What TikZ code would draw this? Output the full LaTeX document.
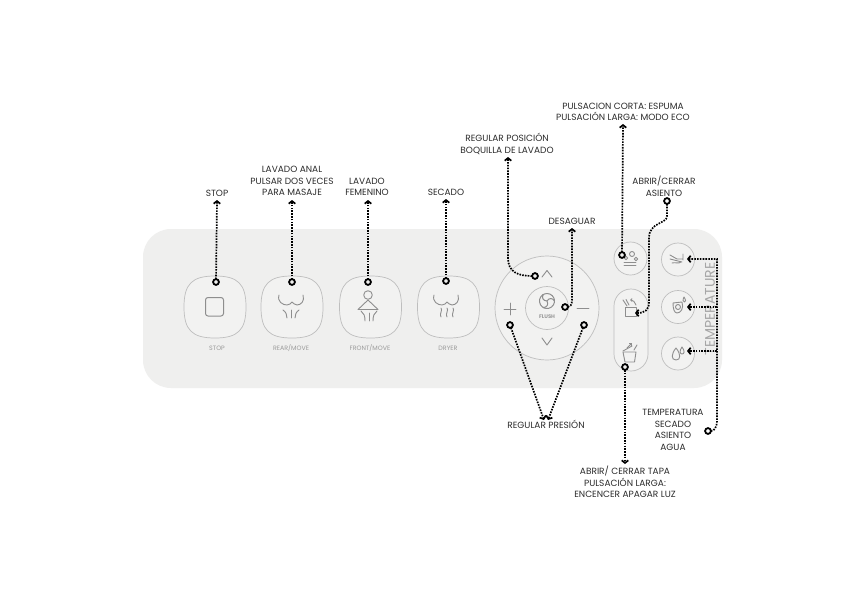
\documentclass[tikz,border=0pt]{standalone}
\usepackage{fontspec}
\setmainfont{Poppins}
\usetikzlibrary{arrows.meta}
\definecolor{panelc}{HTML}{EFEFEE}
\definecolor{edgec}{HTML}{BEBEBE}
\definecolor{iconc}{HTML}{8E8E8E}
\definecolor{lblc}{HTML}{9A9A9A}
\definecolor{txtc}{HTML}{2B2B2B}
\tikzset{
  x=1pt,y=-1pt,
  panelbox/.style={draw=none,fill=panelc,rounded corners=28pt,minimum width=579pt,minimum height=159pt,inner sep=0pt,outer sep=0pt},
  ring/.style={circle,draw=edgec,line width=.7pt,fill=panelc!80!white,inner sep=0pt,outer sep=0pt},
  icon/.style={draw=iconc,line width=.9pt,line cap=round,line join=round},
  lbl/.style={text=txtc,font=\fontsize{9}{11.7}\selectfont,align=center,inner sep=0pt},
  btnlbl/.style={text=lblc,font=\fontsize{6.3}{7}\selectfont,inner sep=0pt},
  hole/.style={circle,draw=black,line width=1.8pt,fill=panelc,minimum size=5.8pt,inner sep=0pt,outer sep=0pt},
  dots/.style={draw=black,line width=1.7pt,dash pattern=on 1.6pt off 1.2pt},
  tipped/.style={dots,-{Straight Barb[length=2.6pt,width=6.6pt,line width=1.7pt]}},
  squircle/.pic={
    \path[draw=edgec,line width=.7pt,fill=panelc!80!white]
      (0,-31) .. controls (23,-31) and (31,-23) .. (31,0)
      .. controls (31,23) and (23,31) .. (0,31)
      .. controls (-23,31) and (-31,23) .. (-31,0)
      .. controls (-31,-23) and (-23,-31) .. (0,-31) -- cycle;
  },
  wave/.pic={
    \draw[icon] (-12,-10) .. controls (-14,-3) and (-8,0) .. (-4,0)
      .. controls (-1,0) and (0,-2) .. (1,-3)
      .. controls (2,-2) and (4,0) .. (6,0)
      .. controls (10,0) and (14,-4) .. (12,-10);
  }
}
\begin{document}
\begin{tikzpicture}
\useasboundingbox (0,0) rectangle (865,600);
\fill[white] (0,0) rectangle (865,600);
\node[panelbox] (panel) at (432.5,308.5) {};

% square buttons
\pic at (215,307) {squircle};
\pic at (292,307) {squircle};
\pic at (370.5,307) {squircle};
\pic at (448.5,307) {squircle};
\node[btnlbl] (lstop) at (217,348) {STOP};
\node[btnlbl] (lrear) at (291,348) {REAR/MOVE};
\node[btnlbl] (lfront) at (370,348) {FRONT/MOVE};
\node[btnlbl] (ldry) at (448,348) {DRYER};

% stop icon
\draw[icon,line width=1pt,rounded corners=2.5pt] (205.5,297.5) rectangle (223.5,316);
% rear icon
\pic at (291,305) {wave};
\draw[icon] (283,310) .. controls (286,312) and (287,315) .. (287,318);
\draw[icon] (291,310) -- (291,318);
\draw[icon] (299,310) .. controls (296,312) and (295,315) .. (295,318);
% front icon
\draw[icon] (368,295) circle (4.3);
\draw[icon] (368,300) -- (358,309.5) -- (378,309.5) -- cycle;
\draw[icon] (361,311) .. controls (364,313) and (365,316) .. (365,321);
\draw[icon] (369,313) -- (369,321);
\draw[icon] (377,311) .. controls (374,313) and (373,316) .. (373,321);
% dryer icon
\pic at (446,305) {wave};
\foreach \wx in {441,447,453}{
  \draw[icon] (\wx,308) .. controls (\wx+2,310) and (\wx-2,314) .. (\wx,317);
}

% dial
\node[ring,minimum size=104pt] (dial) at (547,308) {};
\node[ring,minimum size=43pt] (flush) at (547,308) {};
\draw[icon] (542,277) -- (547,270.5) -- (552,277);
\draw[icon] (542,338) -- (547,345) -- (552,338);
\draw[icon] (504,309) -- (516,309) (510,303) -- (510,315);
\draw[icon] (577,308) -- (589,308);
\foreach \ra in {0,120,240}{
  \begin{scope}[shift={(547,301)},rotate=\ra]
    \draw[icon,line width=1pt] (7.5,0) arc[start angle=0,end angle=-130,radius=7.5];
    \draw[icon,line width=1pt] (7.5,0) .. controls (6,-3) and (2,-3.5) .. (0,0);
  \end{scope}
}
\node[btnlbl,font=\fontsize{5.2}{6}\bfseries\selectfont] (lflush) at (547,317) {FLUSH};

% right-hand buttons
\node[ring,minimum size=33pt] (foam) at (630.5,258.5) {};
\node[ring,rounded corners=17pt,rectangle,minimum width=34pt,minimum height=82pt] (pill) at (631,330) {};
\node[ring,minimum size=33pt] (rtop) at (678,259.5) {};
\node[ring,minimum size=33pt] (rmid) at (678,307) {};
\node[ring,minimum size=33pt] (rbot) at (678,353.5) {};

% foam icon
\draw[icon] (626,258) circle (1.7) (632,254) circle (2.5) (636,259) circle (1.7);
\draw[icon] (624,262) -- (636,262) (624,265) -- (636,265);
% seat icon
\draw[icon] (625,307) -- (625,316.5) -- (636,316.5) -- (636,307) -- cycle;
\draw[icon] (623,300) -- (627,306) (626,299.5) -- (629,305);
\draw[icon,-{Straight Barb[length=1.5pt,width=3pt]}] (636,305) .. controls (635,302) and (633,300) .. (630,300);
% lid icon
\draw[icon] (623,352) -- (636,352) -- (634.5,362) -- (625,362) -- cycle;
\draw[icon] (623,351) -- (632,346);
\draw[icon] (634,350) -- (637,345);
\draw[icon,-{Straight Barb[length=1.5pt,width=3pt]}] (627,348) -- (632,343);
% top right icon
\draw[icon] (670,255) -- (677,259) -- (683,259) (683,254) -- (683,260);
\draw[icon] (670,259) -- (682,262) (672,263) .. controls (675,262) and (679,264) .. (681,262);
% mid right icon
\draw[icon] (673,303) -- (682,302) .. controls (684,308) and (681,313) .. (677,313) .. controls (674,313) and (673,308) .. (673,303);
\draw[icon] (678,307) circle (2.5);
\draw[icon] (684,297) .. controls (682.5,300) and (683,302) .. (684.5,302) .. controls (686,302) and (686,300) .. (684,297);
% bottom right icon
\draw[icon] (676,348) .. controls (671,354) and (671,360) .. (676,360) .. controls (681,360) and (681,354) .. (676,348);
\draw[icon] (682,347) .. controls (679,351) and (680,354) .. (682,354) .. controls (684.5,354) and (685,351) .. (682,347);

% temperature lettering
\node[rotate=90,text=black!35,font=\fontsize{14}{16}\selectfont,inner sep=0pt] (ltemp) at (710,309) {TEMPERATURE};

% labels
\node[lbl] (tstop) at (217,193) {STOP};
\node[lbl] (tanal) at (292,181) {LAVADO ANAL\\PULSAR DOS VECES\\PARA MASAJE};
\node[lbl] (tfem) at (367,187) {LAVADO\\FEMENINO};
\node[lbl] (tsec) at (446,192) {SECADO};
\node[lbl] (tpos) at (507,144) {REGULAR POSICIÓN\\BOQUILLA DE LAVADO};
\node[lbl] (tdes) at (572,221) {DESAGUAR};
\node[lbl] (tfoam) at (623,112) {PULSACION CORTA: ESPUMA\\PULSACIÓN LARGA: MODO ECO};
\node[lbl] (tasi) at (664,186) {ABRIR/CERRAR\\ASIENTO};
\node[lbl] (tpre) at (546,424) {REGULAR PRESIÓN};
\node[lbl] (ttap) at (625,482) {ABRIR/ CERRAR TAPA\\PULSACIÓN LARGA:\\ENCENCER APAGAR LUZ};
\node[lbl] (ttem) at (673,430) {TEMPERATURA\\SECADO\\ASIENTO\\AGUA};

% connector end holes
\node[hole] (dstop) at (216,282) {};
\node[hole] (drear) at (292,282) {};
\node[hole] (dfront) at (368,282) {};
\node[hole] (ddry) at (446,281) {};
\node[hole] (dup) at (535,276) {};
\node[hole] (dflush) at (565,307) {};
\node[hole] (dplus) at (510,325) {};
\node[hole] (dminus) at (584,325) {};
\node[hole] (dfoam) at (622,255) {};
\node[hole,fill=white] (dasi) at (667,201) {};
\node[hole] (dlid) at (625,367) {};
\node[hole,fill=white] (dtem) at (708,431) {};

% arrow ends
\coordinate (astop) at (217,200);
\coordinate (arear) at (292,200);
\coordinate (afront) at (368,200);
\coordinate (adry) at (446,199);
\coordinate (apos) at (508,157);
\coordinate (ades) at (572,228);
\coordinate (afoam) at (623,124);
\coordinate (aseat) at (635,313);
\coordinate (apl) at (544,420);
\coordinate (ami) at (548,420);
\coordinate (atap) at (625,464);
\coordinate (at1) at (687,259);
\coordinate (at2) at (687,307);
\coordinate (at3) at (687,351);
\coordinate (bus1) at (717,259);
\coordinate (bus2) at (717,307);
\coordinate (bus3) at (717,351);

% connectors
\draw[tipped] (dstop) -- (astop);
\draw[tipped] (drear) -- (arear);
\draw[tipped] (dfront) -- (afront);
\draw[tipped] (ddry) -- (adry);
\draw[tipped] (dup.west) .. controls (518,276) and (508,272) .. (508,258) -- (apos);
\draw[tipped] (dflush.east) .. controls (570,307) and (572,305) .. (572,300) -- (ades);
\draw[tipped] (dplus) -- (apl);
\draw[tipped] (dminus) -- (ami);
\draw[tipped] (dfoam) -- (afoam);
\draw[tipped] (dasi.south) -- (667,216) .. controls (667,224) and (649,222) .. (649,238) -- (649,302) .. controls (649,310) and (645,313) .. (aseat);
\draw[tipped] (dlid) -- (atap);
\draw[tipped] (dtem.east) .. controls (714,431) and (717,428) .. (717,420) -- (bus1) -- (at1);
\draw[tipped] (bus2) -- (at2);
\draw[tipped] (bus3) -- (at3);
\end{tikzpicture}
\end{document}
